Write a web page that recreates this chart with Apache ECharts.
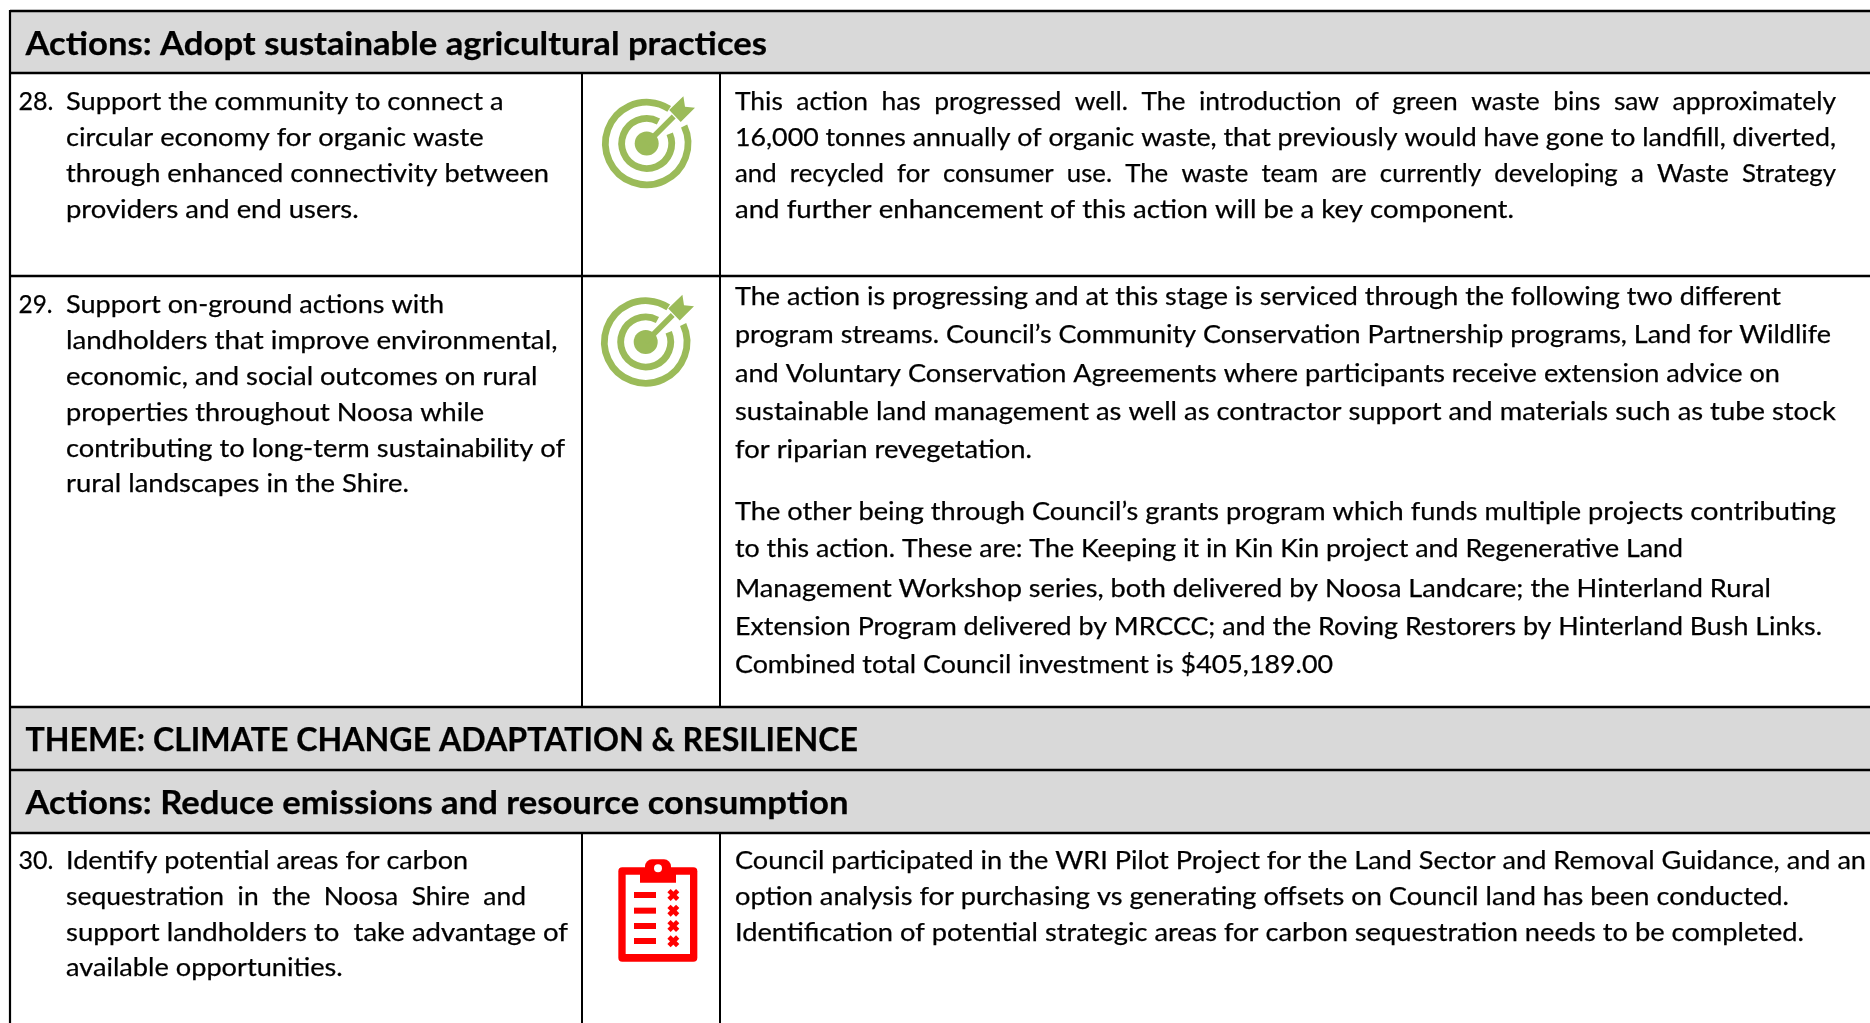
<!DOCTYPE html>
<html>
<head>
<meta charset="utf-8">
<script src="https://cdn.jsdelivr.net/npm/echarts@6/dist/echarts.min.js"></script>
<style>html,body{margin:0;padding:0;background:#fff}#c{width:1870px;height:1023px}</style>
</head>
<body>
<div id="c"></div>
<script>
const headerTexts = [
  'Actions: Adopt sustainable agricultural practices',
  'THEME: CLIMATE CHANGE ADAPTATION & RESILIENCE',
  'Actions: Reduce emissions and resource consumption'
];
const actionNumbers = ['28.', '29.', '30.'];
const action28 = ['Support the community to connect a','circular economy for organic waste','through enhanced connectivity between','providers and end users.'];
const action29 = ['Support on-ground actions with','landholders that improve environmental,','economic, and social outcomes on rural','properties throughout Noosa while','contributing to long-term sustainability of','rural landscapes in the Shire.'];
const action30 = ['Identify potential areas for carbon','sequestration in the Noosa Shire and','support landholders to  take advantage of','available opportunities.'];
const comment28 = ['This action has progressed well. The introduction of green waste bins saw approximately','16,000 tonnes annually of organic waste, that previously would have gone to landfill, diverted,','and recycled for consumer use. The waste team are currently developing a Waste Strategy','and further enhancement of this action will be a key component.'];
const comment29 = ['The action is progressing and at this stage is serviced through the following two different','program streams. Council\u2019s Community Conservation Partnership programs, Land for Wildlife','and Voluntary Conservation Agreements where participants receive extension advice on','sustainable land management as well as contractor support and materials such as tube stock','for riparian revegetation.','The other being through Council\u2019s grants program which funds multiple projects contributing','to this action. These are: The Keeping it in Kin Kin project and Regenerative Land','Management Workshop series, both delivered by Noosa Landcare; the Hinterland Rural','Extension Program delivered by MRCCC; and the Roving Restorers by Hinterland Bush Links.','Combined total Council investment is $405,189.00'];
const comment30 = ['Council participated in the WRI Pilot Project for the Land Sector and Removal Guidance, and an','option analysis for purchasing vs generating offsets on Council land has been conducted.','Identification of potential strategic areas for carbon sequestration needs to be completed.'];
const justifiedLines = [comment28[0], comment28[2], action30[1]];

// layout, separate from the text above
const W = 1870, H = 1023;
const colL = 10, col1 = 582, col2 = 720;
const bands = [[11,73],[707,770],[770,833]];
const headerBase = [55,751,814], headerRight = [767,858,848.5];
const numBase = [110,313,869], numRight = [53.5,52.5,53.4];
const leftBase = [[110,146,182,218],[313,349,385,421,457,492],[869,905,941,976]];
const leftRight = [[503.6,483.7,549,358.7],[444,557.5,537.5,484,565,409],[468,526,568,342.7]];
const rightBase = [[110,146,182,218],[305,343,382,420,458,520,557,597,635,673],[869,905,941]];
const rightRight = [[1836,1836,1836,1514],[1781,1831,1780,1836,1032,1836,1683,1771,1822,1333],[1866,1789,1804]];
const FONT = 'Lato', SIZE = 25.5, HSIZE = 32.5;

const mc = document.createElement('canvas').getContext('2d');
function textEl(str, x, right, base, size, weight) {
  const font = weight + ' ' + size + 'px ' + FONT;
  mc.font = font;
  mc.textBaseline = 'middle';
  const off = mc.measureText('H').actualBoundingBoxDescent;
  const gaps = str.split(' ').length - 1;
  const sp = mc.measureText(' ').width;
  const target = right - x;
  let s = str;
  let w = mc.measureText(s).width;
  if (justifiedLines.indexOf(str) >= 0) {
    const n = Math.max(1, Math.round((target - w) / (gaps * sp)));
    s = str.split(' ').join(' '.repeat(n + 1));
    w = mc.measureText(s).width;
  }
  return {
    type: 'text', x: x, y: base - off, scaleX: target / w, z: 10, silent: true,
    style: { text: s, fontFamily: FONT, fontSize: size, fontWeight: weight, fill: '#000', stroke: '#000', lineWidth: 0.25, align: 'left', verticalAlign: 'middle' }
  };
}
const g = [];
// bands
bands.forEach(b => g.push({ type:'rect', shape:{x:colL,y:b[0],width:W-colL,height:b[1]-b[0]}, style:{fill:'#D9D9D9'}, z:1, silent:true }));
// rules
function hline(y){ g.push({type:'line',shape:{x1:colL,y1:y,x2:W,y2:y},style:{stroke:'#000',lineWidth:2.4},z:5,silent:true}); }
function vline(x,y1,y2,lw){ g.push({type:'line',shape:{x1:x,y1:y1,x2:x,y2:y2},style:{stroke:'#000',lineWidth:lw},z:5,silent:true}); }
[11,73,276,707,770,833].forEach(hline);
vline(colL,10,H,2.2);
[[73,707],[833,H]].forEach(s => { vline(col1,s[0],s[1],2); vline(col2,s[0],s[1],2); });
// headers
headerTexts.forEach((t,i) => g.push(textEl(t, 25.5, headerRight[i], headerBase[i], HSIZE, 'bold')));
// left column and comments
[action28, action29, action30].forEach((lines,r) => {
  g.push(textEl(actionNumbers[r], 18.5, numRight[r], numBase[r], SIZE, 'normal'));
  lines.forEach((t,i) => g.push(textEl(t, 66, leftRight[r][i], leftBase[r][i], SIZE, 'normal')));
});
[comment28, comment29, comment30].forEach((lines,r) => {
  lines.forEach((t,i) => g.push(textEl(t, 735, rightRight[r][i], rightBase[r][i], SIZE, 'normal')));
});
// target icon
function targetIcon(cx, cy) {
  const c = '#9BBB59', rad = d => d * Math.PI / 180;
  g.push({type:'arc',shape:{cx,cy,r:41.3,startAngle:rad(-25),endAngle:rad(303),clockwise:true},style:{stroke:c,fill:null,lineWidth:6.8},z:6,silent:true});
  g.push({type:'arc',shape:{cx,cy,r:25,startAngle:rad(-23),endAngle:rad(298),clockwise:true},style:{stroke:c,fill:null,lineWidth:6.8},z:6,silent:true});
  g.push({type:'circle',shape:{cx,cy,r:12},style:{fill:c},z:6,silent:true});
  g.push({type:'line',shape:{x1:cx,y1:cy,x2:cx+27,y2:cy-27},style:{stroke:c,lineWidth:5.5},z:6,silent:true});
  g.push({type:'polygon',shape:{points:[[36.7,-47.3],[38.3,-36.7],[48.3,-35.7],[34,-21.5],[22.5,-33.5]].map(p=>[cx+p[0],cy+p[1]])},style:{fill:c},z:6,silent:true});
}
targetIcon(646.7,143.5);
targetIcon(645.7,342);
// clipboard icon
(function(){
  const c = '#FF0000', ox = 590, oy = 840, P = v => v / 3;
  const R = (x,y,w,h,r,fill) => g.push({type:'rect',shape:{x:ox+P(x),y:oy+P(y),width:P(w),height:P(h),r:r||0},style:{fill},z:6,silent:true});
  R(85,82,237,283,4,c);
  R(107,104,193,238,0,'#fff');
  R(165,58,78,50,7,c);
  R(150,100,108,28,0,c);
  g.push({type:'circle',shape:{cx:ox+P(204),cy:oy+P(85),r:4},style:{fill:'#fff'},z:7,silent:true});
  [156,203,249,294].forEach(y => R(132,y,66,18,0,c));
  [165,212,258,304].forEach(y => {
    g.push({type:'line',shape:{x1:ox+P(237),y1:oy+P(y-13),x2:ox+P(263),y2:oy+P(y+13)},style:{stroke:c,lineWidth:4.6},z:6,silent:true});
    g.push({type:'line',shape:{x1:ox+P(263),y1:oy+P(y-13),x2:ox+P(237),y2:oy+P(y+13)},style:{stroke:c,lineWidth:4.6},z:6,silent:true});
  });
})();
const chart = echarts.init(document.getElementById('c'), null, {renderer:'canvas', width:W, height:H});
chart.setOption({ animation:false, backgroundColor:'#fff', graphic:{elements:g} });
</script>
</body>
</html>
